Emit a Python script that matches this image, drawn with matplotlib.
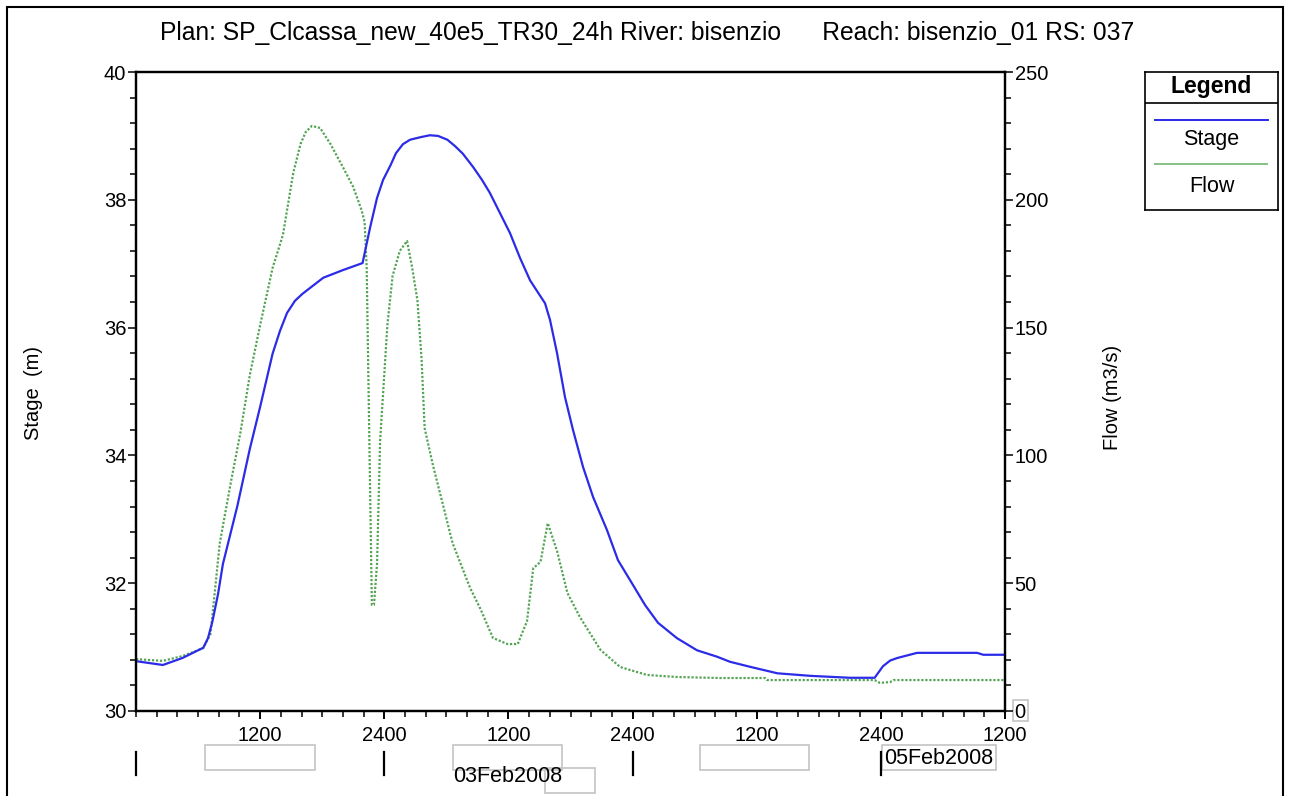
import matplotlib.pyplot as plt
from matplotlib.patches import Rectangle
from matplotlib.ticker import MultipleLocator, FixedLocator

plt.rcParams['font.family'] = ['Liberation Sans', 'DejaVu Sans']

title = "Plan: SP_Clcassa_new_40e5_TR30_24h River: bisenzio      Reach: bisenzio_01 RS: 037"

# hours from 02Feb2008 0000
stage_hours = [0.0, 2.6, 4.5, 6.5, 6.96, 7.4, 7.93, 8.4, 9.8, 11.0, 12.0, 13.2, 13.92,
               14.6, 15.37, 16.1, 18.1, 20.0, 21.9, 22.62, 23.3, 23.88, 24.6, 25.13,
               25.8, 26.49, 27.5, 28.4, 29.19, 30.1, 30.84, 31.6, 32.6, 33.45, 34.2,
               35.19, 36.15, 37.12, 38.09, 39.54, 40.02, 40.7, 41.47, 42.24, 43.21,
               44.18, 45.53, 46.59, 47.75, 49.2, 50.46, 52.29, 54.23, 56.16, 57.42,
               59.4, 62.0, 65.2, 69.0, 71.4, 72.2, 72.9, 73.6, 75.5, 81.3, 81.9, 84.0]
stage_m = [30.78, 30.72, 30.83, 30.99, 31.14, 31.41, 31.83, 32.30, 33.21, 34.10, 34.76,
           35.59, 35.95, 36.23, 36.42, 36.53, 36.78, 36.90, 37.01, 37.56, 38.03, 38.31,
           38.54, 38.73, 38.87, 38.94, 38.98, 39.01, 39.00, 38.94, 38.84, 38.72, 38.51,
           38.31, 38.11, 37.79, 37.48, 37.09, 36.74, 36.38, 36.12, 35.60, 34.91, 34.40,
           33.82, 33.35, 32.83, 32.36, 32.05, 31.66, 31.38, 31.14, 30.95, 30.85, 30.77,
           30.69, 30.59, 30.55, 30.52, 30.52, 30.70, 30.79, 30.83, 30.91, 30.91, 30.88,
           30.88]

flow_hours = [0.0, 2.6, 4.5, 6.5, 7.2, 8.1, 9.1, 10.1, 11.0, 12.0, 13.2, 14.2, 15.2,
              15.9, 16.4, 17.0, 17.8, 18.8, 20.0, 21.0, 21.8, 22.1, 22.3, 22.8, 23.0,
              23.3, 23.6, 24.3, 24.8, 25.5, 26.2, 26.7, 27.2, 27.6, 27.9, 28.7, 29.7,
              30.6, 32.3, 33.3, 34.5, 35.9, 36.9, 37.8, 38.4, 39.1, 39.8, 40.7, 41.7,
              42.9, 44.9, 46.8, 49.4, 52.3, 56.5, 60.8, 61.0, 71.4, 71.9, 72.9, 73.2,
              84.0]
flow_cms = [20.3, 19.6, 21.5, 24.6, 30.1, 65.7, 88.0, 109.1, 131.4, 151.0, 173.3, 186.2,
            210.5, 221.8, 226.5, 228.9, 228.1, 221.8, 212.8, 205.0, 196.0, 191.3, 173.3,
            41.5, 41.5, 57.5, 106.0, 151.0, 170.2, 180.0, 183.9, 173.3, 160.8, 138.1,
            110.7, 96.2, 80.2, 65.7, 48.1, 39.9, 28.6, 26.2, 26.2, 35.2, 55.9, 58.3, 73.5,
            62.6, 46.2, 36.8, 23.9, 17.2, 14.1, 13.3, 12.9, 12.9, 12.1, 12.1, 11.0, 11.3,
            12.1, 12.1]

hour_ticks = [12, 24, 36, 48, 60, 72, 84]
hour_labels = ["1200", "2400", "1200", "2400", "1200", "2400", "1200"]
day_marks = [0, 24, 48, 72]

W, H = 1290, 796
fig = plt.figure(figsize=(W / 100, H / 100), dpi=100)
fig.patch.set_facecolor('white')

# outer frame
fig.add_artist(Rectangle((7 / W, -0.1), 1276 / W, 1.1 - 7 / H, transform=fig.transFigure,
                         fill=False, edgecolor='black', lw=1.5))

fig.text(647 / W, 1 - 33 / H, title, ha='center', va='center', fontsize=17.7)

ax = fig.add_axes([136 / W, 1 - 711 / H, 869 / W, 639 / H])
ax2 = ax.twinx()
ax.set_zorder(ax2.get_zorder() + 1)
ax.patch.set_visible(False)

ax2.plot(flow_hours, flow_cms, color='#55a455', lw=1.6, ls=(0, (1, 0.8)))
ax.plot(stage_hours, stage_m, color='#2b2be8', lw=1.6)

ax.set_xlim(0, 84)
ax.set_ylim(30, 40)
ax2.set_ylim(0, 250)

ax.xaxis.set_major_locator(FixedLocator(hour_ticks))
ax.set_xticklabels(hour_labels)
ax.xaxis.set_minor_locator(MultipleLocator(2))
ax.yaxis.set_major_locator(MultipleLocator(2))
ax.yaxis.set_minor_locator(MultipleLocator(0.4))
ax2.yaxis.set_major_locator(MultipleLocator(50))
ax2.yaxis.set_minor_locator(MultipleLocator(10))

for a in (ax, ax2):
    for s in a.spines.values():
        s.set_linewidth(1.6)
ax.tick_params(axis='x', which='major', length=6, width=1.4, pad=5, labelsize=14.5)
ax.tick_params(axis='x', which='minor', length=4, width=1.1)
ax.tick_params(axis='y', which='major', length=6, width=1.1, pad=1, labelsize=14.5)
ax.tick_params(axis='y', which='minor', length=4, width=1.1)
ax2.tick_params(axis='y', which='major', length=6, width=1.1, pad=1, labelsize=14.5)
ax2.tick_params(axis='y', which='minor', length=4, width=1.1)

ax.set_ylabel("Stage  (m)", fontsize=14.5, va='center')
ax.yaxis.set_label_coords(-0.1185, 0.498)
ax2.set_ylabel("Flow (m3/s)", fontsize=14.5, va='center')
ax2.yaxis.set_label_coords(1.124, 0.491)

# grey frame round the "0" flow label
yt2 = ax2.get_yaxis_transform()
ax2.add_patch(Rectangle((1.009, -4), 0.017, 8.3, transform=yt2, fill=False,
                        edgecolor='#c4c4c4', lw=1.2, clip_on=False))

# day separators and date labels under the time axis
xt = ax.get_xaxis_transform()
for d in day_marks:
    ax.plot([d, d], [-0.064, -0.100], transform=xt, color='black', lw=1.6, clip_on=False)

grey_boxes = [(6.7, 17.3, -0.092, -0.053), (30.6, 41.2, -0.092, -0.053),
              (39.5, 44.4, -0.128, -0.089), (54.5, 65.1, -0.092, -0.053),
              (72.1, 83.1, -0.093, -0.053)]
for x0, x1, y0, y1 in grey_boxes:
    ax.add_patch(Rectangle((x0, y0), x1 - x0, y1 - y0, transform=xt, fill=False,
                           edgecolor='#c4c4c4', lw=1.2, clip_on=False))

ax.text(30.7, -0.103, "03Feb2008", transform=xt, ha='left', va='center', fontsize=15.5)
ax.text(72.3, -0.0736, "05Feb2008", transform=xt, ha='left', va='center', fontsize=15.5)

# legend box
lax = fig.add_axes([1145 / W, 1 - 210 / H, 133 / W, 138 / H])
lax.set_xlim(0, 133)
lax.set_ylim(138, 0)
lax.set_xticks([])
lax.set_yticks([])
for s in lax.spines.values():
    s.set_linewidth(1.2)
lax.axhline(31, color='black', lw=1.2)
lax.text(66.5, 14, "Legend", ha='center', va='center', fontsize=16.5, fontweight='bold')
lax.plot([10, 123], [48, 48], color='#2b2be8', lw=1.4)
lax.text(66.5, 68, "Stage", ha='center', va='center', fontsize=15.5)
lax.plot([10, 122], [92, 92], color='#86c086', lw=1.4)
lax.text(66.5, 115, "Flow", ha='center', va='center', fontsize=15.5)

fig.savefig("out.png", dpi=100)
